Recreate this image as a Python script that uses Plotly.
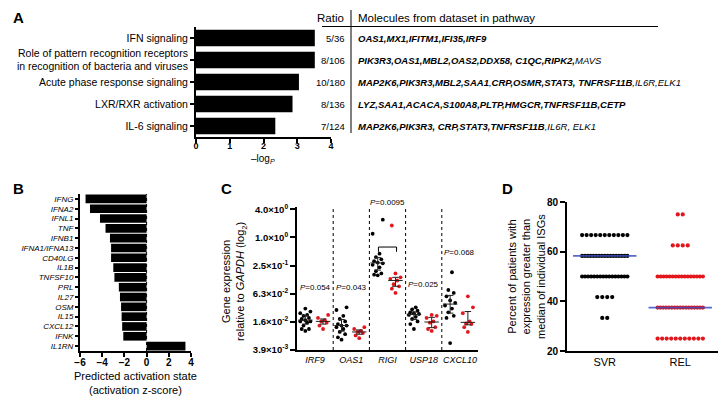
import numpy as np
import plotly.graph_objects as go

W, H = 727, 409
FONT = "Liberation Sans, Arial, sans-serif"
RED = "#e3161b"
BLUE = "#3b4fc4"

# ---------------- Panel A data ----------------
pathways = ["IFN signaling",
            "Role of pattern recognition receptors<br>in recognition of bacteria and viruses",
            "Acute phase response signaling",
            "LXR/RXR activation",
            "IL-6 signaling"]
neglogp = [3.52, 3.52, 3.05, 2.86, 2.35]
ratios = ["5/36", "8/106", "10/180", "8/136", "7/124"]
molecules = [
    "<b>OAS1,MX1,IFITM1,IFI35,IRF9</b>",
    "<b>PIK3R3,OAS1,MBL2,OAS2,DDX58, C1QC,RIPK2,</b>MAVS",
    "<b>MAP2K6,PIK3R3,MBL2,SAA1</b>,<b>CRP,OSMR,STAT3, TNFRSF11B</b>,IL6R,ELK1",
    "<b>LYZ,SAA1,ACACA,S100A8,PLTP,HMGCR,TNFRSF11B,CETP</b>",
    "<b>MAP2K6,PIK3R3, CRP,STAT3,TNFRSF11B</b>,IL6R, ELK1",
]

# ---------------- Panel B data ----------------
regulators = ["IFNG", "IFNA2", "IFNL1", "TNF", "IFNB1", "IFNA1/IFNA13", "CD40LG", "IL1B",
              "TNFSF10", "PRL", "IL27", "OSM", "IL15", "CXCL12", "IFNK", "IL1RN"]
zscores = [-5.5, -5.1, -4.2, -3.7, -3.3, -3.2, -3.2, -3.0, -2.9, -2.5, -2.4, -2.3, -2.25, -2.2, -2.1, 3.5]

# ---------------- Panel C data ----------------
genes = ["IRF9", "OAS1", "RIGI", "USP18", "CXCL10"]
irf9_svr = [0.030, 0.026, 0.024, 0.022, 0.021, 0.019, 0.018, 0.017, 0.016, 0.016, 0.015, 0.013, 0.011, 0.011, 0.010]
irf9_rel = [0.022, 0.019, 0.017, 0.016, 0.015, 0.013, 0.011]
oas1_svr = [0.032, 0.028, 0.021, 0.018, 0.016, 0.014, 0.013, 0.013, 0.012, 0.011, 0.0095, 0.0085, 0.0073, 0.0065]
oas1_rel = [0.012, 0.011, 0.010, 0.0095, 0.009, 0.008, 0.007]
rigi_svr = [2.4, 1.2, 0.45, 0.38, 0.34, 0.31, 0.29, 0.28, 0.26, 0.23, 0.19, 0.17, 0.16, 0.155]
rigi_rel = [1.8, 0.17, 0.14, 0.13, 0.12, 0.10, 0.09, 0.08, 0.065]
usp18_svr = [0.032, 0.029, 0.027, 0.025, 0.024, 0.023, 0.022, 0.020, 0.018, 0.016, 0.014, 0.011]
usp18_rel = [0.022, 0.021, 0.019, 0.016, 0.015, 0.012, 0.011, 0.010]
cxcl10_svr = [0.18, 0.075, 0.065, 0.055, 0.045, 0.040, 0.035, 0.030, 0.025, 0.021, 0.019, 0.0055]
cxcl10_rel = [0.055, 0.032, 0.024, 0.016, 0.0145, 0.014, 0.012, 0.0095]
pvalues = ["0.054", "0.043", "0.0095", "0.025", "0.068"]
c_tickvals = [4.0, 1.0, 0.25, 0.0625, 0.015625, 0.00390625]
c_ticktext = ["4.0×10<sup>0</sup>", "1.0×10<sup>0</sup>", "2.5×10<sup>-1</sup>",
              "6.3×10<sup>-2</sup>", "1.6×10<sup>-2</sup>", "3.9×10<sup>-3</sup>"]

# ---------------- Panel D data ----------------
groups_d = ["SVR", "REL"]
svr_levels = [66.7, 58.3, 50.0, 41.7, 33.3]
svr_counts = [11, 17, 16, 4, 2]
rel_levels = [75.0, 62.5, 50.0, 37.5, 25.0]
rel_counts = [2, 4, 16, 17, 11]


def px(x):
    return x / W


def py(y):
    return 1 - y / H


fig = go.Figure()

# ---- Panel A bars
fig.add_trace(go.Bar(x=neglogp, y=pathways, orientation="h", marker=dict(color="black", line_width=0),
                     width=0.76, xaxis="x", yaxis="y", showlegend=False))

# ---- Panel B bars
fig.add_trace(go.Bar(x=zscores, y=regulators, orientation="h", marker=dict(color="black", line_width=0),
                     width=0.88, xaxis="x2", yaxis="y2", showlegend=False))

# ---- Panel C dots
svr_sets = [irf9_svr, oas1_svr, rigi_svr, usp18_svr, cxcl10_svr]
rel_sets = [irf9_rel, oas1_rel, rigi_rel, usp18_rel, cxcl10_rel]
jitter = [0.0, -0.1, 0.1, -0.05, 0.05, -0.14, 0.14]
for i in range(len(genes)):
    for vals, off, col in ((svr_sets[i], -0.27, "black"), (rel_sets[i], 0.22, RED)):
        vals = np.array(vals)
        order = np.argsort(vals)
        xs = np.empty(len(vals))
        for k, idx in enumerate(order):
            xs[idx] = i + off + jitter[k % len(jitter)]
        fig.add_trace(go.Scatter(x=xs, y=vals, mode="markers", marker=dict(color=col, size=3.8),
                                 xaxis="x3", yaxis="y3", showlegend=False, cliponaxis=False))
        med = np.median(vals)
        q1, q3 = np.percentile(vals, [25, 75])
        c = i + off
        lc = "#222222"
        fig.add_trace(go.Scatter(x=[c - 0.2, c + 0.2], y=[med, med], mode="lines",
                                 line=dict(color=lc, width=1), xaxis="x3", yaxis="y3", showlegend=False))
        fig.add_trace(go.Scatter(x=[c, c], y=[q1, q3], mode="lines",
                                 line=dict(color=lc, width=1), xaxis="x3", yaxis="y3", showlegend=False))
        for q in (q1, q3):
            fig.add_trace(go.Scatter(x=[c - 0.09, c + 0.09], y=[q, q], mode="lines",
                                     line=dict(color=lc, width=1), xaxis="x3", yaxis="y3", showlegend=False))

# ---- Panel D dots
for gi, (levels, counts, col) in enumerate(((svr_levels, svr_counts, "black"), (rel_levels, rel_counts, RED))):
    xs, ys = [], []
    allv = []
    for lv, n in zip(levels, counts):
        sp = min(0.066, 0.6 / max(n - 1, 1))
        for k in range(n):
            xs.append(gi + (k - (n - 1) / 2) * sp)
            ys.append(lv)
            allv.append(lv)
    fig.add_trace(go.Scatter(x=xs, y=ys, mode="markers", marker=dict(color=col, size=4.2),
                             xaxis="x4", yaxis="y4", showlegend=False))
    med = float(np.median(allv))
    fig.add_trace(go.Scatter(x=[gi - 0.42, gi + 0.42], y=[med, med], mode="lines",
                             line=dict(color=BLUE, width=1.8), opacity=0.85,
                             xaxis="x4", yaxis="y4", showlegend=False))

axis_common = dict(showgrid=False, zeroline=False, showline=True, linecolor="black", linewidth=2,
                   ticks="outside", tickcolor="black", tickwidth=2, ticklen=4, automargin=False)

lay = dict(
    width=W, height=H, margin=dict(l=0, r=0, t=0, b=0, autoexpand=False),
    template="none",
    paper_bgcolor="white", plot_bgcolor="white",
    font=dict(family=FONT, color="black", size=10),
    bargap=0.2,
    xaxis=dict(axis_common, domain=[px(196), px(331)], range=[0, 4], tickvals=[0, 1, 2, 3, 4],
               tickfont=dict(size=9, weight="bold"), anchor="y", ticklabelstandoff=-5),
    yaxis=dict(axis_common, domain=[py(137), py(27)], range=[4.5, -0.5], type="category",
               tickmode="array", tickvals=list(range(5)), ticktext=pathways,
               tickfont=dict(size=10.5), anchor="x", linewidth=2),
    xaxis2=dict(axis_common, domain=[px(80), px(191)], range=[-6, 4], tickvals=[-6, -4, -2, 0, 2, 4],
                tickfont=dict(size=10, weight="bold"), anchor="y2", ticklabelstandoff=-3),
    yaxis2=dict(axis_common, domain=[py(351), py(194)], range=[15.5, -0.5], type="category",
                tickmode="array", tickvals=list(range(len(regulators))), ticktext=regulators,
                tickfont=dict(size=8, style="italic"), anchor="x2", ticklen=3),
    xaxis3=dict(axis_common, domain=[px(297), px(478)], range=[-0.5, 4.5], tickvals=list(range(5)),
                ticktext=genes, ticks="", tickfont=dict(size=9, style="italic"), anchor="y3"),
    yaxis3=dict(axis_common, domain=[py(350), py(207.2)], type="log",
                range=[np.log10(2 ** -8), np.log10(2 ** 2.15)],
                tickvals=c_tickvals, ticktext=c_ticktext, tickfont=dict(size=9.5, weight="bold"),
                anchor="x3", ticklen=5),
    xaxis4=dict(axis_common, domain=[px(567), px(718)], range=[-0.5, 1.5], tickvals=[0, 1],
                ticktext=groups_d, ticks="", tickfont=dict(size=11), anchor="y4"),
    yaxis4=dict(axis_common, domain=[py(351), py(202)], range=[20, 80], tickvals=[20, 40, 60, 80],
                tickfont=dict(size=10, weight="bold"), anchor="x4", ticklen=5),
)
fig.update_layout(**lay)

ann = []
shapes = []
# panel letters
for letter, x, y in (("A", 18, 18), ("B", 18, 189), ("C", 226, 189), ("D", 507, 189)):
    ann.append(dict(text="<b>%s</b>" % letter, x=px(x), y=py(y), xref="paper", yref="paper",
                    showarrow=False, font=dict(size=15), xanchor="center", yanchor="middle"))

# Panel A extras
ann.append(dict(text="–log<sub><i>P</i></sub>", x=px(263), y=py(159), xref="paper", yref="paper",
                showarrow=False, font=dict(size=10), xanchor="center", yanchor="middle"))
ann.append(dict(text="Ratio", x=px(346), y=py(18), xref="paper", yref="paper", showarrow=False,
                font=dict(size=11.5), xanchor="right", yanchor="middle"))
ann.append(dict(text="Molecules from dataset in pathway", x=px(356), y=py(18), xref="paper", yref="paper",
                showarrow=False, font=dict(size=11.5), xanchor="left", yanchor="middle"))
for i in range(len(pathways)):
    ann.append(dict(text=ratios[i], x=px(347), y=i, xref="paper", yref="y", showarrow=False,
                    font=dict(size=9.5), xanchor="right", yanchor="middle"))
    ann.append(dict(text="<i>%s</i>" % molecules[i], x=px(356), y=i, xref="paper", yref="y",
                    showarrow=False, font=dict(size=9.5), xanchor="left", yanchor="middle"))
shapes.append(dict(type="line", xref="paper", yref="paper", x0=px(351), x1=px(351), y0=py(10), y1=py(133),
                   line=dict(color="black", width=1)))
shapes.append(dict(type="line", xref="paper", yref="paper", x0=px(322), x1=px(658), y0=py(26.5), y1=py(26.5),
                   line=dict(color="black", width=1)))

# Panel B extras
shapes.append(dict(type="line", xref="x2", yref="y2 domain", x0=0, x1=0, y0=0, y1=1,
                   line=dict(color="black", width=1, dash="dot")))
ann.append(dict(text="Predicted activation state<br>(activation z-score)", x=px(135), y=py(383),
                xref="paper", yref="paper", showarrow=False, font=dict(size=11),
                xanchor="center", yanchor="middle"))

# Panel C extras
for s in (0.5, 1.5, 2.5, 3.5):
    shapes.append(dict(type="line", xref="x3", yref="y3 domain", x0=s, x1=s, y0=0, y1=1,
                       line=dict(color="black", width=1, dash="dot")))
bracket_tops = [0.064, 0.064, 4.2, 0.074, 0.36]
for i, top in enumerate(bracket_tops):
    xl, xr = i - 0.25, i + 0.25
    lo = top * 0.74
    for (xa, ya, xb, yb) in ((xl, top, xr, top), (xl, top, xl, lo), (xr, top, xr, lo)):
        shapes.append(dict(type="line", xref="x3", yref="y3", x0=xa, x1=xb,
                           y0=np.log10(ya), y1=np.log10(yb), line=dict(color="black", width=1)))
    ann.append(dict(text="<i>P</i>=%s" % pvalues[i], x=i, y=np.log10(top), xref="x3", yref="y3",
                    showarrow=False, font=dict(size=8), xanchor="center", yanchor="bottom", yshift=-1))
ann.append(dict(text="Gene expression<br>relative to <i>GAPDH</i> (log<sub>2</sub>)", x=px(234), y=py(282),
                xref="paper", yref="paper", showarrow=False, font=dict(size=11), textangle=-90,
                xanchor="center", yanchor="middle"))

# Panel D extras
ann.append(dict(text="Percent of patients with<br>expression greater than<br>median of individual ISGs",
                x=px(526), y=py(277), xref="paper", yref="paper", showarrow=False, font=dict(size=11),
                textangle=-90, xanchor="center", yanchor="middle"))

fig.update_layout(annotations=ann, shapes=shapes)
fig.write_html("out.html", config={"displayModeBar": False},
               post_script="document.body.style.margin='0px';")
